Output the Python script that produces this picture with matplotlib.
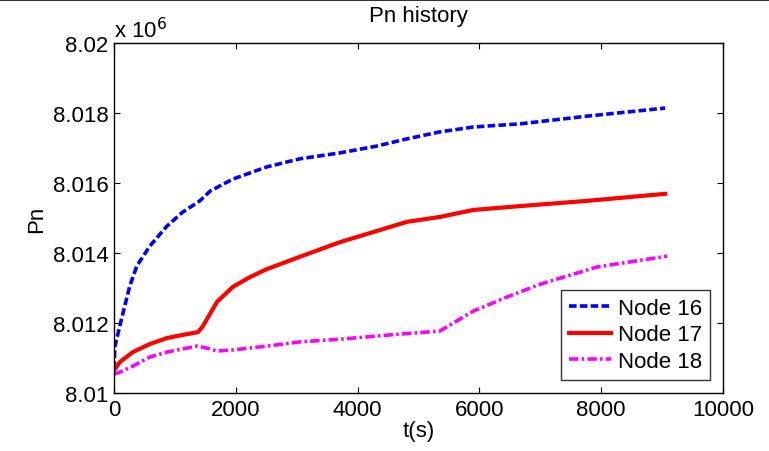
import matplotlib
matplotlib.use("Agg")
import matplotlib.pyplot as plt
from matplotlib.lines import Line2D
from matplotlib.ticker import FuncFormatter
import numpy as np

plt.rcParams["font.family"] = ["Liberation Sans", "DejaVu Sans"]

# values, pressure in units of 1e6
t16 = [0, 16, 150, 260, 375, 590, 870, 1130, 1410, 1580, 1950, 2510, 3050,
       3710, 4300, 4810, 5350, 5900, 6670, 7770, 9050]
p16 = [8.01069, 8.01134, 8.0123, 8.01306, 8.01363, 8.0142, 8.01477, 8.01517,
       8.01549, 8.01577, 8.01611, 8.01646, 8.01669, 8.01686, 8.01705, 8.01726,
       8.01746, 8.0176, 8.01769, 8.01791, 8.01814]

t17 = [0, 100, 310, 590, 870, 1130, 1380, 1460, 1690, 1950, 2230, 2510, 3050,
       3710, 4810, 5350, 5900, 6670, 7770, 9050]
p17 = [8.01065, 8.01089, 8.01117, 8.0114, 8.01157, 8.01166, 8.01174, 8.01191,
       8.0126, 8.01303, 8.01331, 8.01354, 8.01389, 8.01431, 8.01489, 8.01503,
       8.01523, 8.01534, 8.01549, 8.01569]

t18 = [0, 100, 310, 590, 870, 1130, 1360, 1580, 1690, 1950, 2510, 3050, 3730,
       4530, 5350, 5900, 6450, 7000, 7930, 9080]
p18 = [8.01054, 8.0106, 8.01077, 8.01103, 8.01117, 8.01126, 8.01134, 8.01126,
       8.0112, 8.01123, 8.01134, 8.01146, 8.01154, 8.01166, 8.01177, 8.01234,
       8.01274, 8.01311, 8.0136, 8.01391]

labels = ["Node 16", "Node 17", "Node 18"]
xticks = [0, 2000, 4000, 6000, 8000, 10000]
yticks = [8.010, 8.012, 8.014, 8.016, 8.018, 8.020]

FS = 16

fig = plt.figure(figsize=(7.69, 4.52), dpi=100)
ax = fig.add_axes([0.1482, 0.1283, 0.7920, 0.7744])

ax.plot(t16, np.array(p16) * 1e6, color="#0000ff", lw=2.6,
        linestyle=(0, (2.1, 0.9)), label=labels[0])
ax.plot(t17, np.array(p17) * 1e6, color="#ff0000", lw=3.0,
        linestyle="-", label=labels[1])
ax.plot(t18, np.array(p18) * 1e6, color="#ff00ff", lw=2.6,
        linestyle=(0, (2.6, 0.9, 0.7, 0.9)), label=labels[2])

ax.set_xlim(0, 10000)
ax.set_ylim(8.010e6, 8.020e6)
ax.set_xticks(xticks)
ax.set_yticks([v * 1e6 for v in yticks])
ax.yaxis.set_major_formatter(FuncFormatter(lambda v, p: f"{v / 1e6:g}"))
ax.tick_params(direction="in", length=4, width=0.8, labelsize=FS,
               top=True, right=True, pad=4)
for s in ax.spines.values():
    s.set_linewidth(1.0)

ax.set_xlabel("t(s)", fontsize=FS, labelpad=0)
ax.set_ylabel("Pn", fontsize=FS, labelpad=4)
ax.set_title("Pn history", fontsize=FS, pad=16)
ax.text(0.0, 1.003, r"x 10$^{6}$", transform=ax.transAxes, fontsize=FS,
        ha="left", va="bottom")

leg = ax.legend(loc="lower right", fontsize=FS, frameon=True, fancybox=False,
                edgecolor="black", borderaxespad=0.6, handlelength=1.9,
                handletextpad=0.3, borderpad=0.35, labelspacing=0.25)
leg.get_frame().set_linewidth(1.0)

fig.add_artist(Line2D([0, 1], [0.997, 0.997], transform=fig.transFigure,
                      color="#333333", lw=1.5))

fig.savefig("out.png", dpi=100)
